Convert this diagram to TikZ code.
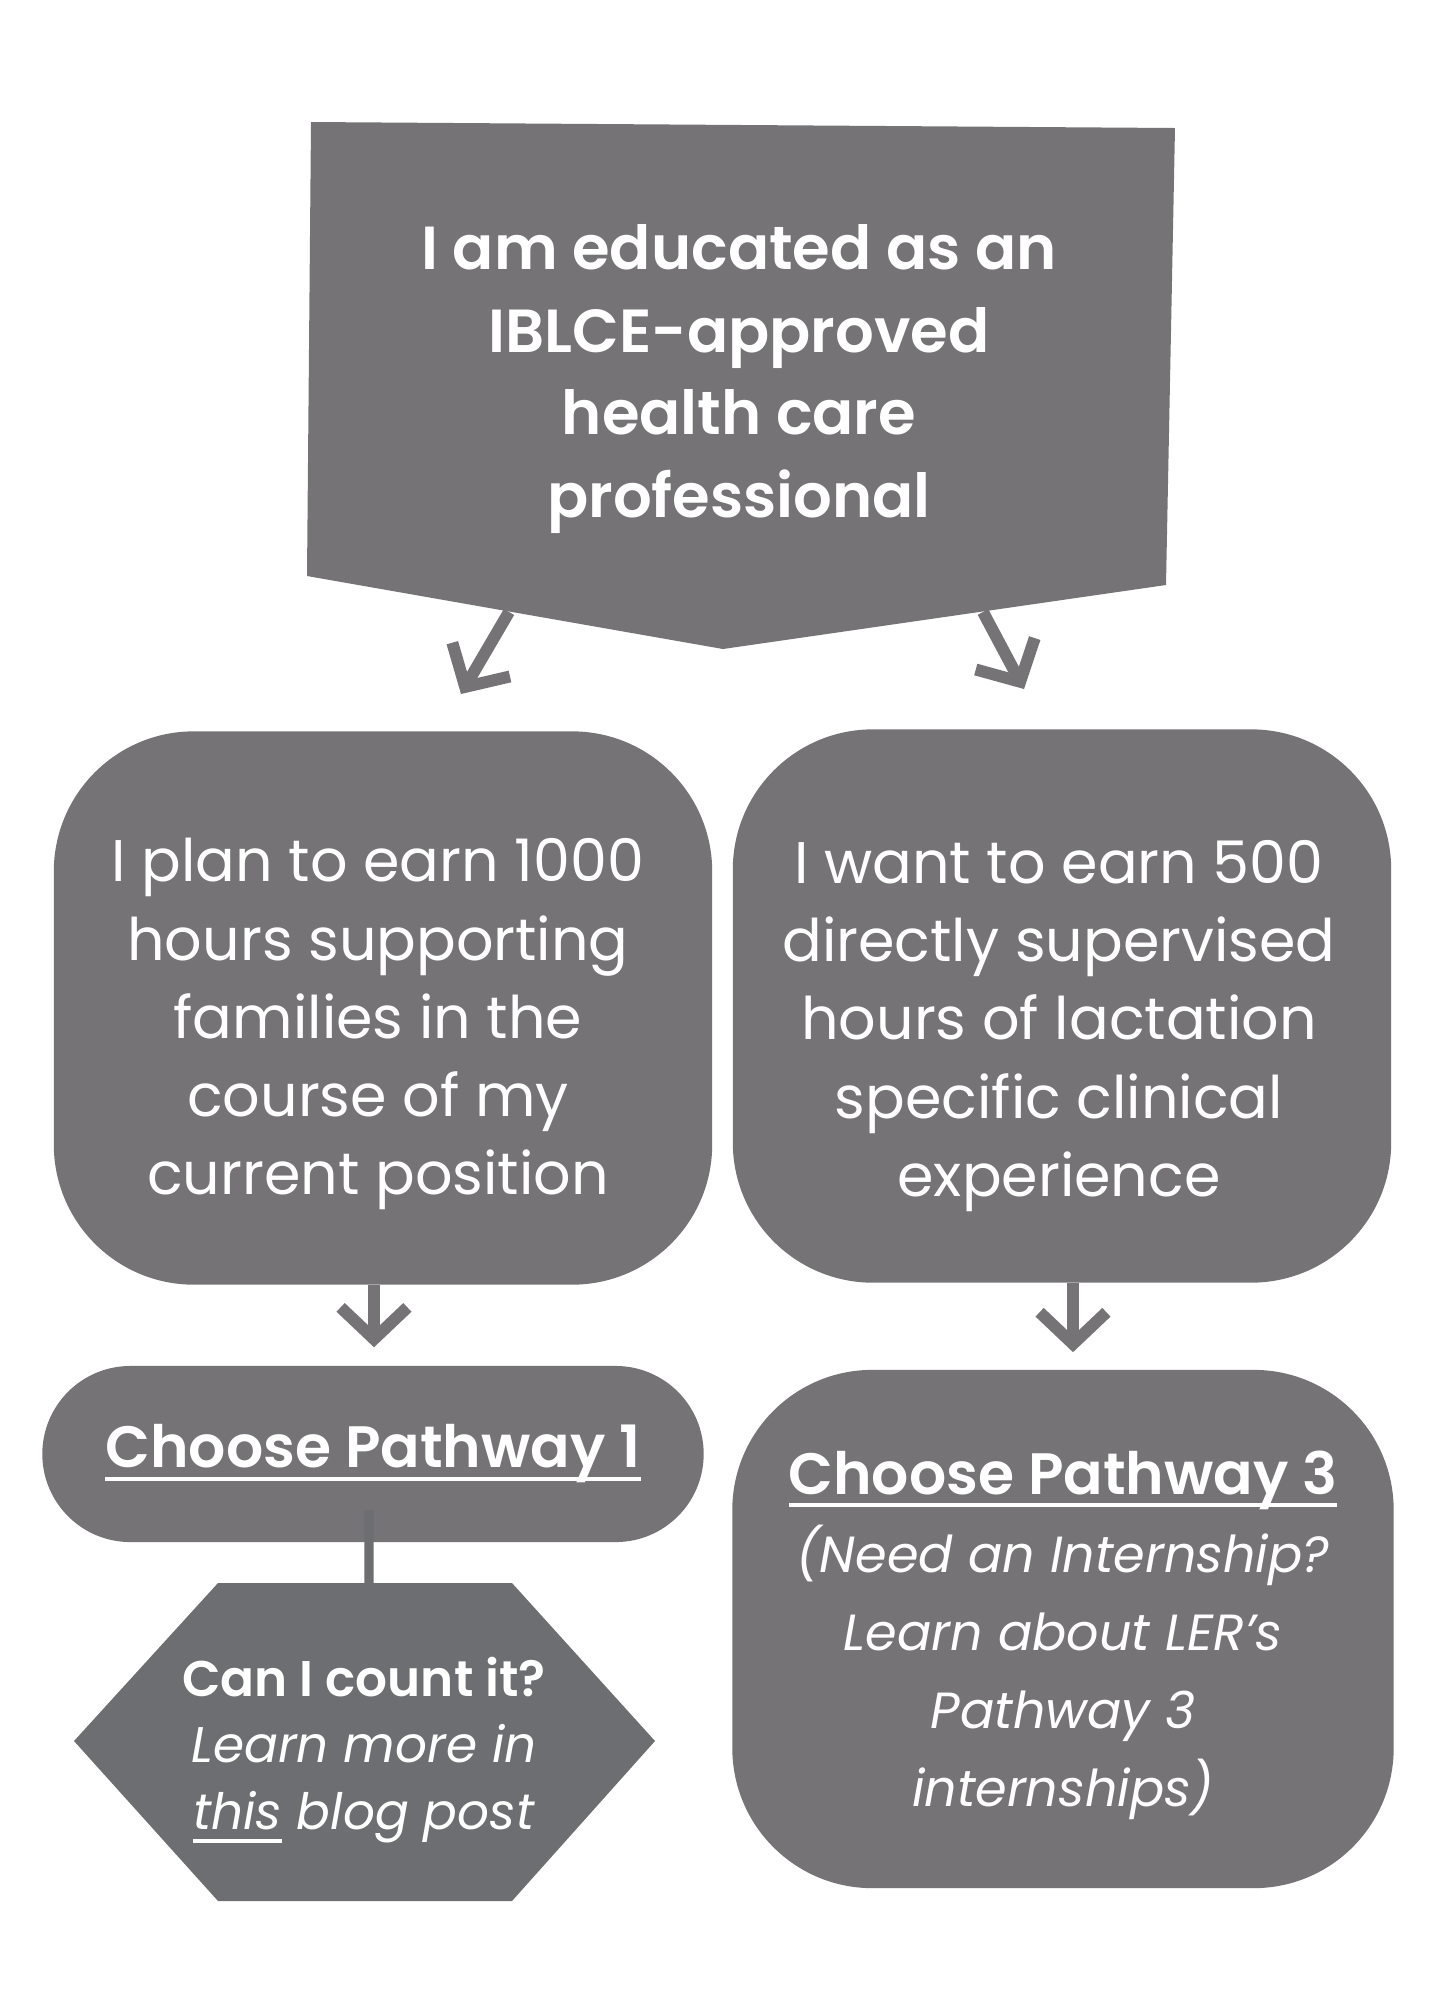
\documentclass[tikz,border=0pt]{standalone}
\usepackage{fontspec}
\setmainfont{Poppins}[BoldFont={Poppins SemiBold}]
\newcommand{\undl}[1]{\setbox0\hbox{#1}\rlap{\vrule height -2.6pt depth 3.8pt width \wd0}\box0\relax}
\usetikzlibrary{arrows.meta,positioning}
\definecolor{boxgray}{HTML}{757376}
\definecolor{hexgray}{HTML}{6D6E71}
\begin{document}
\begin{tikzpicture}[
    x=0.01cm, y=-0.01cm,
    headtext/.style={
        text=white,
        align=center,
        font=\bfseries\fontsize{17.3}{23.5}\selectfont
    },
    box/.style={
        rectangle,
        fill=boxgray,
        rounded corners=1.4cm,
        minimum width=6.58cm,
        minimum height=5.53cm
    },
    boxtext/.style={
        text=white,
        align=center,
        font=\fontsize{16.7}{22.2}\selectfont
    },
    pill/.style={
        rectangle,
        fill=boxgray,
        rounded corners=0.88cm,
        minimum width=6.61cm,
        minimum height=1.76cm,
        text=white,
        align=center,
        font=\bfseries\fontsize{16.6}{22.2}\selectfont
    },
    hextext/.style={
        text=white,
        align=center,
        font=\fontsize{14.25}{19}\selectfont
    },
    arrow/.style={
        -{Straight Barb[length=9pt,width=19pt,sharp]},
        line width=3.4pt,
        draw=boxgray
    },
    link/.style={
        line width=2.6pt,
        draw=hexgray
    }
]
\useasboundingbox (0,0) rectangle (1438,2011);

% Riquadro iniziale
\fill[boxgray] (311,122) -- (1175,128) -- (1166,585) -- (723,649) -- (307,576) -- cycle;
\node[headtext] (start) at (739,379) {I am educated as an\\IBLCE-approved\\health care\\professional};

% Scelte
\node[box] (plan) at (383,1008) {};
\node[boxtext] (planText) at ([xshift=-0.05cm, yshift=-0.16cm]plan.center) {I plan to earn 1000\\hours supporting\\families in the\\course of my\\current position};
\node[box] (want) at (1062,1006) {};
\node[boxtext] (wantText) at ([xshift=-0.03cm, yshift=-0.2cm]want.center) {I want to earn 500\\directly supervised\\hours of lactation\\specific clinical\\experience};

\coordinate (startL) at (509,612);
\coordinate (tipL) at (461,694);
\coordinate (startR) at (983,612);
\coordinate (tipR) at (1024,689);
\draw[arrow] (startL) -- (tipL);
\draw[arrow] (startR) -- (tipR);

% Pathway
\node[pill] (path1) at (373,1454) {\undl{Choose Pathway 1}};
\node[box, minimum width=6.61cm, minimum height=5.18cm] (path3) at (1063,1629) {};
\node[boxtext] (path3Text) at ([yshift=-0.06cm]path3.center) {%
    \textbf{\fontsize{16.6}{22.2}\selectfont\undl{Choose Pathway 3}}\\
    \textit{\fontsize{14.45}{22.2}\selectfont(Need an Internship?}\\
    \textit{\fontsize{14.45}{22.2}\selectfont Learn about LER’s}\\
    \textit{\fontsize{14.45}{22.2}\selectfont Pathway 3}\\
    \textit{\fontsize{14.45}{22.2}\selectfont internships)}};

\draw[arrow, shorten >=0.18cm] ([xshift=-0.09cm]plan.south) -- ([xshift=-0.09cm]plan.south |- path1.north);
\draw[arrow, shorten >=0.17cm] ([xshift=0.11cm]want.south) -- ([xshift=0.11cm]want.south |- path3.north);

% Esagono
\coordinate (hexTop) at (369,1583);
\draw[link] ([xshift=-0.04cm, yshift=-0.56cm]path1.center) -- (hexTop);
\fill[hexgray] (74,1741) -- (218,1583) -- (512,1583) -- (655,1741) -- (512,1901) -- (218,1901) -- cycle;
\node[hextext] (count) at (364,1750) {\textbf{Can I count it?}\\\textit{Learn more in}\\\textit{\undl{this} blog post}};

\end{tikzpicture}
\end{document}
